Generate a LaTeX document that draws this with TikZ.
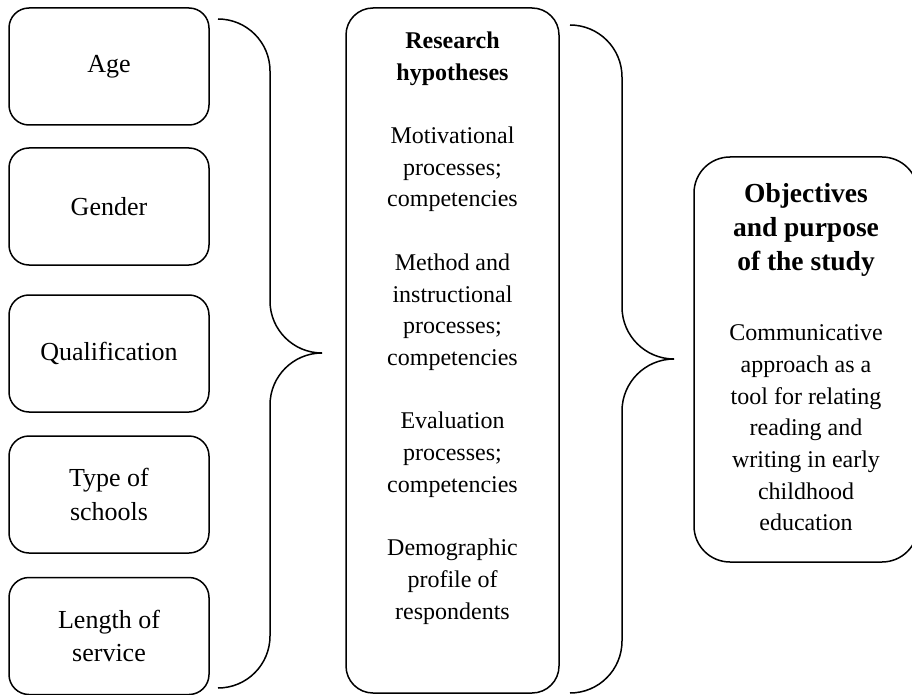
\documentclass[tikz,border=0pt]{standalone}
\usepackage{fontspec}
\setmainfont{Liberation Serif}
\begin{document}
\begin{tikzpicture}[x=1pt,y=-1pt,line width=1.5pt,
  leftbox/.style={draw,rounded corners=20pt,minimum width=200pt,minimum height=117pt,
    inner sep=0pt,align=center,font=\fontsize{26}{33.5}\selectfont},
  bigbox/.style={draw,inner sep=0pt},
  bodytext/.style={inner sep=0pt,align=center,anchor=north,font=\fontsize{24}{31.7}\selectfont},
  brace/.style={rounded corners=52pt}]
\useasboundingbox (0,0) rectangle (912,695);
% left boxes
\node[leftbox] (age)  at (109,66.5)  {Age};
\node[leftbox] (gen)  at (109,206.5) {Gender};
\node[leftbox] (qual) at (109,353.5) {Qualification};
\node[leftbox] (type) at (109,494.5) {Type of\\schools};
\node[leftbox] (len)  at (109,636)   {Length of\\service};
% left brace
\coordinate (lbt) at (218,19);
\coordinate (lbb) at (218,688);
\coordinate (lbtip) at (322,353);
\draw[brace] (lbt) -- (270,19) -- (270,353) -- (lbtip);
\draw[brace] (lbb) -- (270,688) -- (270,353) -- (lbtip);
% middle box
\node[bigbox,rounded corners=27pt,minimum width=213pt,minimum height=685pt] (hyp) at (452.5,350.5) {};
\node[bodytext] (hyptext) at (452.5,31) {\textbf{Research}\\\textbf{hypotheses}\\[31.7pt]
Motivational\\processes;\\competencies\\[31.7pt]
Method and\\instructional\\processes;\\competencies\\[31.7pt]
Evaluation\\processes;\\competencies\\[31.7pt]
Demographic\\profile of\\respondents};
% right brace
\coordinate (rbt) at (570,25);
\coordinate (rbb) at (570,693);
\coordinate (rbtip) at (674,359);
\draw[brace] (rbt) -- (622,25) -- (622,359) -- (rbtip);
\draw[brace] (rbb) -- (622,693) -- (622,359) -- (rbtip);
% right box
\node[bigbox,rounded corners=36pt,minimum width=224pt,minimum height=405pt] (obj) at (806,359.5) {};
\node[inner sep=0pt,align=center,anchor=north,font=\fontsize{27.5}{34}\selectfont\bfseries] (objtitle) at (806,183) {Objectives\\and purpose\\of the study};
\node[bodytext] (objbody) at (806,324) {Communicative\\approach as a\\tool for relating\\reading and\\writing in early\\childhood\\education};
\end{tikzpicture}
\end{document}
